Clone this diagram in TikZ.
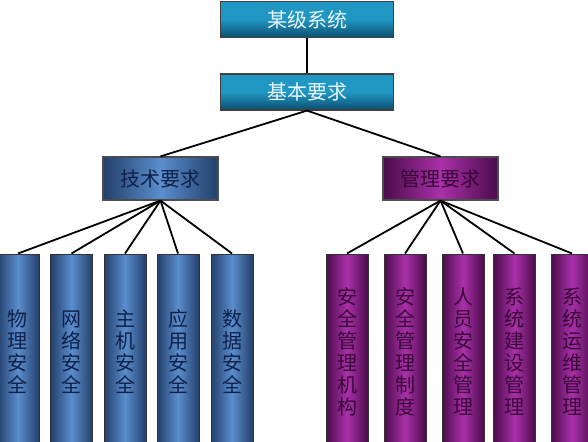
\documentclass[tikz,border=0pt]{standalone}
\usepackage{fontspec}
\newfontfamily\cjk{Noto Sans CJK SC}
\definecolor{tealL}{HTML}{2096C2}
\definecolor{tealD}{HTML}{0C4E6E}
\definecolor{blueL}{HTML}{5A8ECE}
\definecolor{blueD}{HTML}{233F6A}
\definecolor{blueT}{HTML}{0F2148}
\definecolor{purpL}{HTML}{AA30AA}
\definecolor{purpD}{HTML}{4A0C4A}
\definecolor{purpT}{HTML}{3A0838}
\begin{document}
\begin{tikzpicture}[
  x = 1pt,
  y = -1pt,
  headbox/.style = {
    shape = rectangle,
    draw = black!75,
    line width = 1.2pt,
    top color = tealL,
    bottom color = tealD,
    middle color = tealL,
    text = cyan!8,
    font = \cjk\fontsize{20}{22}\selectfont,
    minimum width = 173pt,
    minimum height = 36pt,
    inner sep = 0pt
  },
  groupbox/.style = {
    shape = rectangle,
    draw = black!70,
    line width = 1.2pt,
    minimum width = 115pt,
    minimum height = 43pt,
    font = \cjk\fontsize{20}{22}\selectfont,
    inner sep = 0pt
  },
  pillar/.style = {
    shape = rectangle,
    draw = black!80,
    line width = 1pt,
    minimum width = 42pt,
    minimum height = 196pt,
    align = center,
    font = \cjk\fontsize{20}{22}\selectfont,
    inner sep = 0pt
  },
  bluefill/.style = {
    left color = blueD,
    right color = blueD,
    middle color = blueL,
    text = blueT
  },
  purpfill/.style = {
    left color = purpD,
    right color = purpD,
    middle color = purpL,
    text = purpT
  },
  every path/.style = {
    line width = 1.8pt
  }
]
  \useasboundingbox (0, 0) rectangle (588, 441);
  \node[headbox] (sys) at (307, 19.5) {某级系统};
  \node[headbox] (base) at (307, 92) {基本要求};

  \node[groupbox, bluefill] (tech) at (160.5, 178.5) {技术要求};
  \node[groupbox, purpfill] (mgmt) at (440.5, 178.5) {管理要求};

  \node[pillar, bluefill] (phys) at (18, 352) {物\\理\\安\\全};
  \node[pillar, bluefill] (net) at (71.5, 352) {网\\络\\安\\全};
  \node[pillar, bluefill] (host) at (125, 352) {主\\机\\安\\全};
  \node[pillar, bluefill] (app) at (178, 352) {应\\用\\安\\全};
  \node[pillar, bluefill] (data) at (232, 352) {数\\据\\安\\全};

  \node[pillar, purpfill] (org) at (347, 352) {安\\全\\管\\理\\机\\构};
  \node[pillar, purpfill] (rule) at (405, 352) {安\\全\\管\\理\\制\\度};
  \node[pillar, purpfill] (staff) at (463, 352) {人\\员\\安\\全\\管\\理};
  \node[pillar, purpfill] (build) at (514.5, 352) {系\\统\\建\\设\\管\\理};
  \node[pillar, purpfill] (oper) at (572, 352) {系\\统\\运\\维\\管\\理};

  \draw (sys) -- (base);
  \draw (base.south) -- (tech.north);
  \draw (base.south) -- (mgmt.north);
  \foreach \c in {phys, net, host, app, data}
    \draw (tech.south) -- (\c.north);
  \foreach \c in {org, rule, staff, build, oper}
    \draw (mgmt.south) -- (\c.north);
\end{tikzpicture}
\end{document}
